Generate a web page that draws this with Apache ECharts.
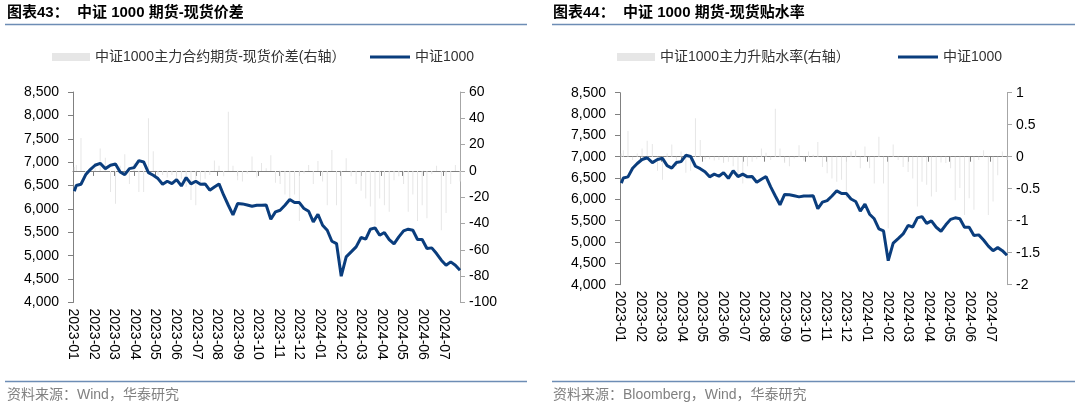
<!DOCTYPE html>
<html><head><meta charset="utf-8">
<script src="https://cdn.jsdelivr.net/npm/echarts/dist/echarts.min.js"></script>
<style>html,body{margin:0;padding:0;background:#fff}#c{width:1080px;height:410px}</style>
</head><body><div id="c"></div><script>
// weekly observations (first trading day + Fridays)
const dates = ['2023-01-03',
'2023-01-06','2023-01-13','2023-01-20','2023-01-27','2023-02-03','2023-02-10','2023-02-17','2023-02-24','2023-03-03','2023-03-10',
'2023-03-17','2023-03-24','2023-03-31','2023-04-07','2023-04-14','2023-04-21','2023-04-28','2023-05-05','2023-05-12','2023-05-19',
'2023-05-26','2023-06-02','2023-06-09','2023-06-16','2023-06-23','2023-06-30','2023-07-07','2023-07-14','2023-07-21','2023-07-28',
'2023-08-04','2023-08-11','2023-08-18','2023-08-25','2023-09-01','2023-09-08','2023-09-15','2023-09-22','2023-09-29','2023-10-06',
'2023-10-13','2023-10-20','2023-10-27','2023-11-03','2023-11-10','2023-11-17','2023-11-24','2023-12-01','2023-12-08','2023-12-15',
'2023-12-22','2023-12-29','2024-01-05','2024-01-12','2024-01-19','2024-01-26','2024-02-02','2024-02-09','2024-02-16','2024-02-23',
'2024-03-01','2024-03-08','2024-03-15','2024-03-22','2024-03-29','2024-04-05','2024-04-12','2024-04-19','2024-04-26','2024-05-03',
'2024-05-10','2024-05-17','2024-05-24','2024-05-31','2024-06-07','2024-06-14','2024-06-21','2024-06-28','2024-07-05','2024-07-12',
'2024-07-19','2024-07-26'];
const csi1000 = [6380,
6500,6528,6730,6841,6934,6976,6862,6934,6962,6791,
6734,6862,6884,7033,7005,6777,6720,6649,6528,6592,
6542,6627,6492,6670,6535,6592,6528,6535,6400,6470,
6535,6293,6079,5873,6115,6108,6085,6058,6079,6079,
6085,5780,5937,5972,6079,6200,6136,6136,6008,5951,
5723,5887,5652,5545,5310,5260,4563,4976,5082,5189,
5389,5353,5567,5595,5438,5495,5346,5253,5403,5531,
5567,5545,5346,5346,5154,5168,5047,4904,4798,4869,
4798,4691];
// futures - spot basis (right axis, chart 43)
const basis = [3,
4.5,25,-4,3,6,17,10,-16,-25,4,
12.6,-10,6,-16,-16,40,15,-3,-3,-5,
-3,-8,-6,-12,-22,-26,-10,-6,-3,8,
4,-4,45,4,-7,-8,-2,11,-5,6,
2,12,-9,-10,-18,-21,-18,-38,-2,4.5,
-10,7.5,-8,-26,16,-26,-70,9.6,-4,-10,
-15,-21,-27,-41,-21,-26,-31,-7,-4,-10,
-31,-18,-38,-26,-36,-2.5,4,-45,-32,-10,
4.5,-8];
// premium / discount rate (right axis, chart 44)
const rate = [0.05,
0.1,0.4,-0.05,0.05,0.13,0.25,0.2,-0.22,-0.36,0.05,
0.19,-0.15,0.08,-0.25,-0.22,0.6,0.26,-0.04,-0.04,-0.06,
-0.05,-0.1,-0.08,-0.15,-0.29,-0.42,-0.15,-0.08,-0.04,0.13,
0.06,-0.05,0.75,0.13,-0.1,-0.15,-0.03,0.18,-0.06,0.08,
0.03,0.23,-0.16,-0.26,-0.34,-0.39,-0.36,-0.65,0.08,0.1,
-0.18,0.16,-0.18,-0.42,0.31,-0.42,-1.12,0.19,-0.05,-0.16,
-0.24,-0.34,-0.78,-0.39,-0.44,-0.62,-0.55,-0.09,-0.1,-0.18,
-0.68,-0.49,-0.91,-0.65,-0.83,-0.05,0.1,-0.91,-0.7,-0.29,
0.08,-0.05];
const monthTicks = ['2023-01','2023-02','2023-03','2023-04','2023-05','2023-06','2023-07',
'2023-08','2023-09','2023-10','2023-11','2023-12','2024-01','2024-02','2024-03',
'2024-04','2024-05','2024-06','2024-07'];
const lineName = '中证1000';
const barNameL = '中证1000主力合约期货-现货价差(右轴）';
const barNameR = '中证1000主力升贴水率(右轴）';

const FONT = "'Liberation Sans','Noto Sans CJK SC',sans-serif";
// position of a date in months since 2023-01-01
function mIdx(s) {
  const [y, m, d] = s.split('-').map(Number);
  const dim = new Date(y, m, 0).getDate();
  return (y - 2023) * 12 + (m - 1) + (d - 1) / dim;
}
const xMax = mIdx(dates[dates.length - 1]);
const LINE = '#0a3d7d';
const BAR = '#e6e6e6';

function xAxis(gi) {
  return {
    type: 'value', gridIndex: gi, min: 0, max: xMax, interval: 1,
    axisLine: { show: true, lineStyle: { color: '#808080', width: 1 } },
    axisTick: { show: true, length: 5, lineStyle: { color: '#808080' } },
    axisLabel: { rotate: -90, margin: 6, color: '#000', fontSize: 14, fontFamily: FONT, hideOverlap: false,
      showMaxLabel: false,
      formatter: v => (Math.abs(v - Math.round(v)) < 1e-6 && monthTicks[Math.round(v)]) ? monthTicks[Math.round(v)] : '' },
    splitLine: { show: false }
  };
}
function yAxis(gi, pos, min, max, interval, fmt, lc) {
  return {
    type: 'value', gridIndex: gi, position: pos, min, max, interval,
    axisLine: { show: true, lineStyle: { color: lc, width: 1 } },
    axisTick: { show: true, length: 5, lineStyle: { color: lc } },
    axisLabel: { color: '#000', fontSize: 14, fontFamily: FONT, margin: pos === 'left' ? 14 : 9, formatter: fmt },
    splitLine: { show: false }
  };
}
const comma = v => v.toLocaleString('en-US');
const legText = { fontSize: 14, color: '#333', fontFamily: FONT };

const chart = echarts.init(document.getElementById('c'), null, { renderer: 'canvas' });
chart.setOption({
  animation: false,
  backgroundColor: '#fff',
  grid: [
    { left: 73, top: 92, width: 387, height: 210.5 },
    { left: 620, top: 92.7, width: 387, height: 192 }
  ],
  xAxis: [xAxis(0), xAxis(1)],
  yAxis: [
    yAxis(0, 'left', 4000, 8500, 500, comma, '#808080'),
    yAxis(0, 'right', -100, 60, 20, v => String(v), '#a6a6a6'),
    yAxis(1, 'left', 4000, 8500, 500, comma, '#808080'),
    yAxis(1, 'right', -2, 1, 0.5, v => String(v), '#a6a6a6')
  ],
  legend: [
    { left: 52, top: 50, padding: 0, itemWidth: 38, itemHeight: 8, selectedMode: false, icon: 'rect',
      data: [barNameL], textStyle: legText },
    { left: 370, top: 50, padding: 0, itemWidth: 40, itemHeight: 3, selectedMode: false, icon: 'rect',
      data: [lineName], textStyle: legText },
    { left: 617, top: 50, padding: 0, itemWidth: 38, itemHeight: 8, selectedMode: false, icon: 'rect',
      data: [barNameR], textStyle: legText },
    { left: 898, top: 50, padding: 0, itemWidth: 40, itemHeight: 3, selectedMode: false, icon: 'rect',
      data: [lineName], textStyle: legText }
  ],
  series: [
    { name: barNameL, type: 'bar', xAxisIndex: 0, yAxisIndex: 1, barWidth: 1, itemStyle: { color: BAR }, z: 1,
      data: dates.map((d, i) => [mIdx(d), basis[i]]) },
    { name: lineName, type: 'line', xAxisIndex: 0, yAxisIndex: 0, symbol: 'none', lineStyle: { color: LINE, width: 3 }, itemStyle: { color: LINE }, z: 3,
      data: dates.map((d, i) => [mIdx(d), csi1000[i]]) },
    { name: barNameR, type: 'bar', xAxisIndex: 1, yAxisIndex: 3, barWidth: 1, itemStyle: { color: BAR }, z: 1,
      data: dates.map((d, i) => [mIdx(d), rate[i]]) },
    { name: lineName, type: 'line', xAxisIndex: 1, yAxisIndex: 2, symbol: 'none', lineStyle: { color: LINE, width: 3 }, itemStyle: { color: LINE }, z: 3,
      data: dates.map((d, i) => [mIdx(d), csi1000[i]]) }
  ],
  graphic: [
    { type: 'text', left: 7, top: 5, style: { text: '图表43：  中证 1000 期货-现货价差', font: "bold 15px 'Liberation Sans','Noto Sans CJK SC',sans-serif", fill: '#000' } },
    { type: 'text', left: 553, top: 5, style: { text: '图表44：  中证 1000 期货-现货贴水率', font: "bold 15px 'Liberation Sans','Noto Sans CJK SC',sans-serif", fill: '#000' } },
    { type: 'line', shape: { x1: 5, y1: 24.5, x2: 527, y2: 24.5 }, style: { stroke: '#6d8db5', lineWidth: 1.3 } },
    { type: 'line', shape: { x1: 552, y1: 24.5, x2: 1075, y2: 24.5 }, style: { stroke: '#6d8db5', lineWidth: 1.3 } },
    { type: 'line', shape: { x1: 5, y1: 381.5, x2: 527, y2: 381.5 }, style: { stroke: '#6d8db5', lineWidth: 1.3 } },
    { type: 'line', shape: { x1: 552, y1: 381.5, x2: 1075, y2: 381.5 }, style: { stroke: '#6d8db5', lineWidth: 1.3 } },
    { type: 'text', left: 7, top: 388, style: { text: '资料来源：Wind，华泰研究', font: "14px 'Liberation Sans','Noto Sans CJK SC',sans-serif", fill: '#808080' } },
    { type: 'text', left: 553, top: 388, style: { text: '资料来源：Bloomberg，Wind，华泰研究', font: "14px 'Liberation Sans','Noto Sans CJK SC',sans-serif", fill: '#808080' } }
  ]
});
</script></body></html>
